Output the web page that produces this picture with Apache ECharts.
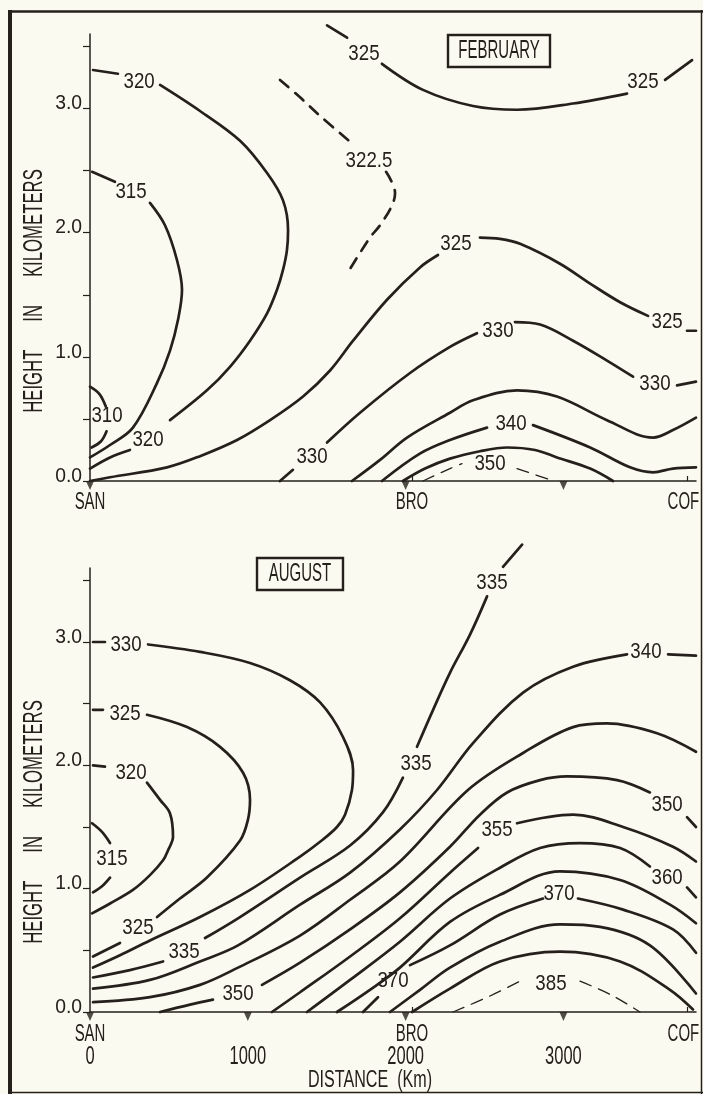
<!DOCTYPE html>
<html><head><meta charset="utf-8">
<script src="https://cdn.jsdelivr.net/npm/echarts@6/dist/echarts.min.js"></script>
<style>html,body{margin:0;padding:0;background:#fbfaf0;}#c{width:703px;height:1094px;}</style>
</head><body><div id="c"></div>
<script>
// ---------- DATA (distance km, height km) ----------
const STATION_KM = [0, 2040, 3760];
const STATION_NAMES = ['SAN', 'BRO', 'COF'];
const DIST_KM = [0, 1000, 2000, 3000];
const DIST_LABELS = ['0', '1000', '2000', '3000'];
const SPECIAL_TICKS_KM = [2040, 3785];
const FEB_MARKERS = [[0, 0], [2000, 0], [3000, 0]];
const AUG_MARKERS = [[0, 0], [1000, 0], [2000, 0], [3000, 0]];
const HEIGHT_TICKS = [0, 0.5, 1, 1.5, 2, 2.5, 3, 3.5];
const HEIGHT_LABELS = [0, 1, 2, 3];

// February contours (segments split where labels sit)
const FEB_310 = [[[0,0.76],[60,0.70],[100,0.60]], [[105,0.40],[70,0.32],[10,0.27]]];
const FEB_315 = [[[13,2.49],[158,2.41]], [[380,2.24],[475,2.06],[551,1.78],[583,1.54],[558,1.30],[507,1.05],[425,0.79],[272,0.43],[127,0.29],[0,0.19]]];
const FEB_320 = [[[19,3.31],[177,3.28]], [[444,3.19],[697,2.98],[951,2.74],[1122,2.48],[1223,2.26],[1255,2.02],[1248,1.86],[1223,1.70],[1185,1.54],[1122,1.35],[1014,1.13],[887,0.92],[741,0.73],[507,0.49]], [[253,0.25],[127,0.19],[0,0.10]]];
const FEB_3225 = [[[1204,3.23],[1331,3.09],[1458,2.94],[1660,2.72]], [[1876,2.49],[1933,2.32],[1914,2.22],[1838,2.06],[1774,1.96],[1629,1.67]]];
const FEB_325A = [[[1502,3.67],[1629,3.57]], [[1850,3.36],[2110,3.15],[2427,3.02],[2706,2.99],[3061,3.04],[3403,3.12]], [[3644,3.23],[3815,3.39]]];
const FEB_325B = [[[0,0],[127,0.03],[488,0.11],[697,0.20],[932,0.33],[1141,0.49],[1350,0.68],[1521,0.89],[1667,1.13],[1882,1.46],[2091,1.72],[2205,1.82]], [[2471,1.96],[2598,1.95],[2725,1.91],[2978,1.75],[3169,1.59],[3359,1.44],[3536,1.33]], [[3783,1.21],[3840,1.21]]];
const FEB_330 = [[[1204,0],[1286,0.09]], [[1502,0.31],[1711,0.55],[2028,0.87],[2281,1.08],[2452,1.19]], [[2693,1.28],[2852,1.26],[3061,1.13],[3276,0.97],[3441,0.84]], [[3720,0.77],[3840,0.80]]];
const FEB_335 = [[[1660,0],[1838,0.17],[2009,0.35],[2281,0.55],[2427,0.65],[2706,0.73],[2959,0.68],[3276,0.49],[3568,0.35],[3694,0.41],[3840,0.51]]];
const FEB_340 = [[[1850,0],[2090,0.22],[2281,0.33],[2516,0.43]], [[2807,0.45],[3169,0.27],[3422,0.11],[3568,0.07],[3694,0.10],[3840,0.11]]];
const FEB_345 = [[[1983,0],[2123,0.10],[2281,0.18],[2471,0.24],[2643,0.27],[2820,0.25],[2959,0.19],[3169,0.10],[3314,0]]];
const FEB_350 = [[[2110,0],[2281,0.10],[2357,0.14]], [[2706,0.10],[2915,0.01]]];
const FEB_LABELS = [[108,0.52,'310'],[260,2.33,'315'],[311,3.21,'320'],[368,0.33,'320'],[1768,2.58,'322.5'],[1736,3.44,'325'],[3504,3.21,'325'],[2319,1.91,'325'],[3657,1.28,'325'],[1407,0.19,'330'],[2585,1.21,'330'],[3580,0.78,'330'],[2668,0.46,'340'],[2535,0.14,'350']];

// August contours
const AUG_315 = [[[13,1.53],[76,1.46],[127,1.37]], [[127,1.09],[76,1.02],[19,0.97]]];
const AUG_320 = [[[19,2.00],[95,1.99]], [[361,1.86],[444,1.72],[507,1.61],[526,1.42],[494,1.31],[463,1.23],[380,1.11],[272,0.99],[127,0.88],[13,0.80]]];
const AUG_325 = [[[19,2.45],[82,2.45]], [[361,2.41],[615,2.31],[824,2.15],[970,1.94],[1014,1.72],[1001,1.56],[951,1.39],[741,1.09],[570,0.92],[425,0.77]], [[190,0.56],[19,0.45]]];
const AUG_330 = [[[19,3.00],[95,3.00]], [[368,2.98],[697,2.92],[1014,2.83],[1267,2.69],[1458,2.51],[1603,2.23],[1667,1.96],[1660,1.80],[1616,1.60],[1565,1.50],[1458,1.38],[1331,1.26],[1014,0.99],[697,0.77],[380,0.58],[190,0.46],[19,0.36]]];
const AUG_335 = [[[19,0.28],[253,0.34],[463,0.41]], [[729,0.60],[938,0.76],[1331,1.09],[1648,1.35],[1857,1.62],[1983,1.90]], [[2072,2.15],[2174,2.45],[2281,2.75],[2408,3.06],[2516,3.37]], [[2617,3.61],[2738,3.79]]];
const AUG_340 = [[[19,0.19],[380,0.26],[697,0.41],[938,0.54],[1331,0.87],[1648,1.13],[1964,1.48],[2199,1.80],[2427,2.18],[2744,2.59],[3061,2.80],[3403,2.90]], [[3663,2.90],[3840,2.89]]];
const AUG_345 = [[[19,0.08],[380,0.12],[697,0.22],[938,0.36],[1331,0.62],[1648,0.91],[1964,1.22],[2395,1.80],[2744,2.10],[3061,2.31],[3276,2.34],[3593,2.26],[3840,2.11]]];
const AUG_350 = [[[444,0],[634,0.06],[779,0.10]], [[1090,0.22],[1331,0.40],[1648,0.67],[1964,0.97],[2281,1.34],[2471,1.60],[2643,1.78],[2852,1.88],[3023,1.91],[3340,1.88],[3548,1.78]], [[3783,1.58],[3840,1.50]]];
const AUG_355 = [[[1153,0],[1331,0.16],[1648,0.45],[1964,0.76],[2281,1.13],[2459,1.33]], [[2706,1.53],[3061,1.60],[3378,1.50],[3694,1.34],[3840,1.22]]];
const AUG_360 = [[[1375,0],[1648,0.26],[1964,0.57],[2281,0.92],[2598,1.17],[2852,1.33],[3105,1.37],[3359,1.33],[3548,1.18]], [[3783,1.01],[3840,0.93]]];
const AUG_365 = [[[1565,0],[1774,0.18],[1964,0.36],[2281,0.73],[2598,0.95],[2978,1.14],[3359,1.07],[3675,0.87],[3840,0.72]]];
const AUG_370 = [[[1730,0],[1825,0.12]], [[2028,0.38],[2281,0.54],[2598,0.79],[2871,0.92]], [[3092,0.92],[3378,0.83],[3694,0.67],[3840,0.48]]];
const AUG_375 = [[[1901,0],[2091,0.18],[2281,0.36],[2598,0.57],[2978,0.71],[3232,0.69],[3548,0.54],[3840,0.15]]];
const AUG_380 = [[[2041,0],[2281,0.19],[2598,0.41],[2978,0.49],[3359,0.41],[3675,0.18],[3821,0.02]]];
const AUG_385 = [[[2300,0],[2535,0.13],[2725,0.25]], [[3105,0.25],[3300,0.14],[3485,0]]];
const AUG_LABELS = [[139,1.24,'315'],[260,1.94,'320'],[222,2.42,'325'],[304,0.68,'325'],[228,2.98,'330'],[596,0.49,'335'],[2066,2.01,'335'],[2547,3.48,'335'],[3523,2.92,'340'],[938,0.15,'350'],[3657,1.68,'350'],[2579,1.48,'355'],[3657,1.09,'360'],[1920,0.25,'370'],[2972,0.96,'370'],[2921,0.23,'385']];

// ---------- STYLE ----------
const INK = '#25201b';
const FONT = "'Liberation Sans', Arial, sans-serif";
const SOLID = {width: 2.7, type: 'solid'};
const THICK_DASH = {width: 2.7, type: [11, 9]};
const THIN_DASH = {width: 1.3, type: [12, 8]};

function contour(segments, g, st) {
  return segments.map(seg => ({
    type: 'line', xAxisIndex: g, yAxisIndex: g, data: seg, smooth: 0.35,
    showSymbol: false, symbol: 'none', clip: false, silent: true, animation: false,
    lineStyle: {color: INK, width: st.width, type: st.type, cap: 'round'}
  }));
}
function markers(arr, g) {
  return {
    type: 'scatter', xAxisIndex: g, yAxisIndex: g, symbol: 'triangle', symbolRotate: 180,
    symbolSize: [8, 9], symbolOffset: [0, 4.5], clip: false, silent: true, animation: false,
    itemStyle: {color: INK}, data: arr
  };
}
function yAx(g) {
  return {
    type: 'value', gridIndex: g, min: 0, max: 3.6,
    axisLine: {show: true, lineStyle: {color: INK, width: 1.5}},
    splitLine: {show: false},
    axisTick: {show: true, length: 7, customValues: HEIGHT_TICKS, lineStyle: {color: INK, width: 1.2}},
    axisLabel: {show: false}
  };
}
function xAx(g) {
  return {
    type: 'value', gridIndex: g, min: 0, max: 3840,
    axisLine: {show: true, onZero: false, lineStyle: {color: INK, width: 1.5}},
    splitLine: {show: false},
    axisTick: {show: true, inside: true, length: 5, customValues: SPECIAL_TICKS_KM, lineStyle: {color: INK, width: 1.2}},
    axisLabel: {show: false}
  };
}

const series = [].concat(
  contour(FEB_310, 0, SOLID), contour(FEB_315, 0, SOLID), contour(FEB_320, 0, SOLID),
  contour(FEB_3225, 0, THICK_DASH), contour(FEB_325A, 0, SOLID), contour(FEB_325B, 0, SOLID),
  contour(FEB_330, 0, SOLID), contour(FEB_335, 0, SOLID), contour(FEB_340, 0, SOLID),
  contour(FEB_345, 0, SOLID), contour(FEB_350, 0, THIN_DASH),
  [markers(FEB_MARKERS, 0)],
  contour(AUG_315, 1, SOLID), contour(AUG_320, 1, SOLID), contour(AUG_325, 1, SOLID),
  contour(AUG_330, 1, SOLID), contour(AUG_335, 1, SOLID), contour(AUG_340, 1, SOLID),
  contour(AUG_345, 1, SOLID), contour(AUG_350, 1, SOLID), contour(AUG_355, 1, SOLID),
  contour(AUG_360, 1, SOLID), contour(AUG_365, 1, SOLID), contour(AUG_370, 1, SOLID),
  contour(AUG_375, 1, SOLID), contour(AUG_380, 1, SOLID), contour(AUG_385, 1, THIN_DASH),
  [markers(AUG_MARKERS, 1)]
);

const chart = echarts.init(document.getElementById('c'), null, {renderer: 'canvas'});
chart.setOption({
  backgroundColor: '#fbfaf0',
  animation: false,
  grid: [
    {left: 90, top: 34, width: 606, height: 447},
    {left: 90, top: 568, width: 606, height: 444}
  ],
  xAxis: [xAx(0), xAx(1)],
  yAxis: [yAx(0), yAx(1)],
  series: series
});

// ---------- condensed lettering, placed through the chart's own scales ----------
const T = (s, x, y, size, sx, align, rot) => ({
  type: 'text', x: x, y: y, scaleX: sx, rotation: rot || 0, silent: true, z: 50,
  style: {text: s, fontSize: size, fontFamily: FONT, fill: INK, align: align || 'center', verticalAlign: 'middle'}
});
const ln = (x1, y1, x2, y2, w) => ({type: 'line', silent: true, z: 50, shape: {x1, y1, x2, y2}, style: {stroke: INK, lineWidth: w}});
const px = (g, x, y) => chart.convertToPixel({gridIndex: g}, [x, y]);

const G = [
  ln(10, 10, 10, 1094, 4), ln(8, 11.5, 703, 11.5, 2.5), ln(701.5, 10, 701.5, 1094, 1.5), ln(8, 1092.5, 703, 1092.5, 1.5),
  {type: 'rect', silent: true, z: 50, shape: {x: 448, y: 35, width: 102, height: 32}, style: {fill: 'none', stroke: INK, lineWidth: 2.4}},
  T('FEBRUARY', 499, 51.5, 25, 0.6),
  {type: 'rect', silent: true, z: 50, shape: {x: 257, y: 558, width: 86, height: 32}, style: {fill: 'none', stroke: INK, lineWidth: 2.4}},
  T('AUGUST', 300, 574.5, 25, 0.6),
  T('HEIGHT      IN      KILOMETERS', 35, 291, 27, 0.62, 'center', Math.PI / 2),
  T('HEIGHT      IN      KILOMETERS', 35, 822, 27, 0.62, 'center', Math.PI / 2),
  T('DISTANCE  (Km)', 370, 1081, 23, 0.7)
];
[[0, FEB_LABELS], [1, AUG_LABELS]].forEach(([g, arr]) => {
  arr.forEach(a => { const p = px(g, a[0], a[1]); G.push(T(a[2], p[0], p[1], 22, 0.85)); });
  HEIGHT_LABELS.forEach(v => { const p = px(g, 0, v); G.push(T(v.toFixed(1), p[0] - 8, p[1] - 5, 21, 0.92, 'right')); });
});
STATION_KM.forEach((k, i) => {
  const a = px(0, k, 0); G.push(T(STATION_NAMES[i], a[0], a[1] + 22, 23, 0.65));
  const b = px(1, k, 0); G.push(T(STATION_NAMES[i], b[0], b[1] + 23, 23, 0.65));
});
DIST_KM.forEach((k, i) => {
  const b = px(1, k, 0); G.push(T(DIST_LABELS[i], b[0], b[1] + 45, 25, 0.66));
});
chart.setOption({graphic: G});
</script></body></html>
